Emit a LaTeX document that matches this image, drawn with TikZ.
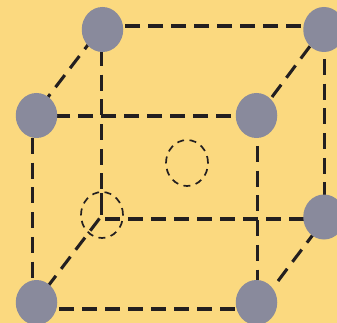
\documentclass[tikz,border=0pt]{standalone}
\usetikzlibrary{shapes.geometric}
\definecolor{bgc}{HTML}{FBD97F}
\definecolor{ballc}{HTML}{898A9C}
\definecolor{ink}{HTML}{231F20}
\tikzset{
 ball/.style={ellipse,fill=ballc,minimum width=41.5pt,minimum height=45pt,inner sep=0pt},
 hedge/.style={draw=ink,line width=3.9pt,dash pattern=on 15pt off 8pt},
 vedge/.style={draw=ink,line width=3.4pt,dash pattern=on 16pt off 8.7pt},
 dedge/.style={draw=ink,line width=3.1pt,dash pattern=on 15.3pt off 8.7pt},
 ghost/.style={ellipse,draw=ink,line width=1.7pt,dash pattern=on 7pt off 5.5pt,minimum width=42pt,minimum height=46pt,inner sep=0pt}
}
\begin{document}
\begin{tikzpicture}[x=1pt,y=-1pt]
\useasboundingbox (0,0) rectangle (337,323);
\clip (0,0) rectangle (337,323);
\fill[bgc] (0,0) rectangle (337,323);
\coordinate (bTL) at (102.5,29.5);
\coordinate (bTR) at (324,29.5);
\coordinate (fTL) at (36.5,115.5);
\coordinate (fTR) at (256.5,115.5);
\coordinate (bBR) at (324,217);
\coordinate (fBL) at (36.5,302.5);
\coordinate (fBR) at (256.5,302.5);
\coordinate (bBLa) at (101.3,215);
\coordinate (bBLb) at (105,219);
\coordinate (bBLc) at (99.5,218.5);
% connectors, anchored on the node centres
\draw[hedge] ([shift={(-23,-3.5)}]bTR) -- ([shift={(17,-3.5)}]bTL);
\draw[hedge] ([shift={(-25.5,0.5)}]fTR) -- ([shift={(18,0.5)}]fTL);
\draw[hedge] ([shift={(22.5,6.5)}]fBL) -- ([shift={(-21,6.5)}]fBR);
\draw[hedge] (bBLb) -- ([shift={(-19,2)}]bBR);
\draw[vedge] ([shift={(-4.3,22.5)}]fTL) -- ([shift={(-4.3,-22)}]fBL);
\draw[vedge] ([shift={(0.7,30.5)}]fTR) -- ([shift={(0.7,-21)}]fBR);
\draw[vedge] ([shift={(0.3,29.5)}]bTR) -- ([shift={(0.3,-21)}]bBR);
\draw[vedge] ([shift={(-1.2,20.5)}]bTL) -- ([shift={(0,-26)}]bBLa);
\draw[vedge,dash pattern=on 30pt off 0pt] ([shift={(0,-22)}]bBLa) -- (bBLa);
\draw[dedge] (bBLc) -- ([shift={(12,-17)}]fBL);
\draw[dedge] ([shift={(15.5,-18.5)}]fTR) -- ([shift={(-12,14)}]bTR);
\draw[dedge] ([shift={(-8.5,7.5)}]bTL) -- ([shift={(11.5,-18.5)}]fTL);
\draw[dedge] ([shift={(21.5,-21.5)}]fBR) -- ([shift={(-6,11)}]bBR);
% nodes
\foreach \n in {bTL,bTR,fTL,fTR,bBR,fBL,fBR}
  \node[ball] (\n n) at (\n) {};
\node[ghost] (gb) at (102,215) {};
\node[ghost] (gc) at (187,163) {};
\end{tikzpicture}
\end{document}
